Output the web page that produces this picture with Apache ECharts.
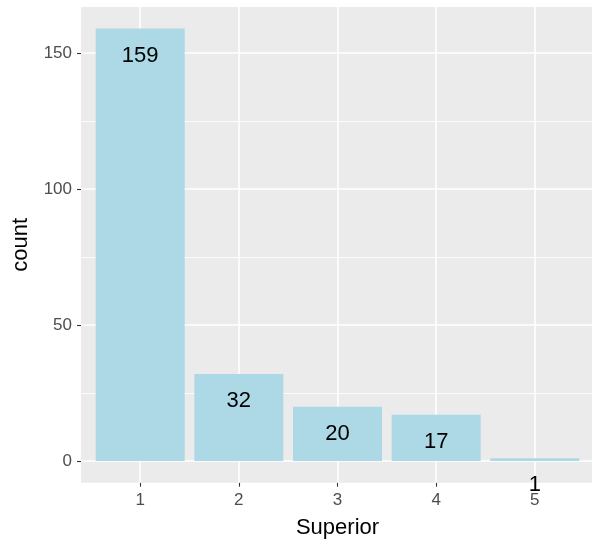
<!DOCTYPE html>
<html>
<head>
<meta charset="utf-8">
<script src="https://cdn.jsdelivr.net/npm/echarts@6/dist/echarts.min.js"></script>
<style>
html,body{margin:0;padding:0;background:#fff;}
#chart{width:592px;height:546px;}
</style>
</head>
<body>
<div id="chart"></div>
<script>
const categories = [1, 2, 3, 4, 5];
const counts = [159, 32, 20, 17, 1];
const yTicks = [0, 50, 100, 150];
const yMinor = [25, 75, 125];
const xTitle = 'Superior';
const yTitle = 'count';

const FONT = '"Liberation Sans", Arial, Helvetica, sans-serif';
const chart = echarts.init(document.getElementById('chart'), null, {renderer: 'canvas'});

const barData = categories.map((c, i) => [c, counts[i]]);
const yMax = Math.max(...counts);
const pad = yMax * 0.05;

const gridLines = [];
categories.forEach(c => gridLines.push({xAxis: c, lineStyle: {color: '#ffffff', width: 1.6, type: 'solid'}}));
yTicks.forEach(v => gridLines.push({yAxis: v, lineStyle: {color: '#ffffff', width: 1.6, type: 'solid'}}));
yMinor.forEach(v => gridLines.push({yAxis: v, lineStyle: {color: '#ffffff', width: 0.8, type: 'solid'}}));

chart.setOption({
  animation: false,
  backgroundColor: '#ffffff',
  textStyle: {fontFamily: FONT},
  grid: {
    left: 81, top: 7, width: 513, height: 475.7,
    outerBoundsMode: 'none',
    containLabel: false,
    show: true, backgroundColor: '#EBEBEB', borderWidth: 0
  },
  xAxis: {
    type: 'value',
    min: 0.4, max: 5.6,
    name: xTitle,
    nameLocation: 'middle',
    nameGap: 34,
    nameTextStyle: {fontSize: 22, color: '#000000', fontFamily: FONT},
    axisLine: {show: false, onZero: false},
    axisTick: {show: true, length: 4, lineStyle: {color: '#333333', width: 1.1}, customValues: categories},
    axisLabel: {show: true, customValues: categories, fontSize: 17, color: '#4D4D4D', margin: 9, fontFamily: FONT},
    splitLine: {show: false}
  },
  yAxis: {
    type: 'value',
    min: -pad, max: yMax + pad,
    name: yTitle,
    nameLocation: 'middle',
    nameGap: 49,
    nameTextStyle: {fontSize: 22, color: '#000000', fontFamily: FONT},
    axisLine: {show: false},
    axisTick: {show: true, length: 4, lineStyle: {color: '#333333', width: 1.1}, customValues: yTicks},
    axisLabel: {show: true, customValues: yTicks, fontSize: 17, color: '#4D4D4D', margin: 9, fontFamily: FONT},
    splitLine: {show: false}
  },
  series: [
    {
      type: 'scatter',
      data: [],
      zlevel: 0,
      z: 1,
      silent: true,
      markLine: {
        silent: true,
        symbol: ['none', 'none'],
        label: {show: false},
        animation: false,
        data: gridLines
      }
    },
    {
      type: 'bar',
      zlevel: 1,
      z: 2,
      data: barData,
      barWidth: 89,
      itemStyle: {color: '#ADD8E6'},
      label: {
        show: true,
        position: 'insideTop',
        distance: 16,
        fontSize: 22,
        lineHeight: 22,
        color: '#000000',
        fontFamily: FONT,
        formatter: p => String(p.value[1])
      }
    }
  ]
});
</script>
</body>
</html>
